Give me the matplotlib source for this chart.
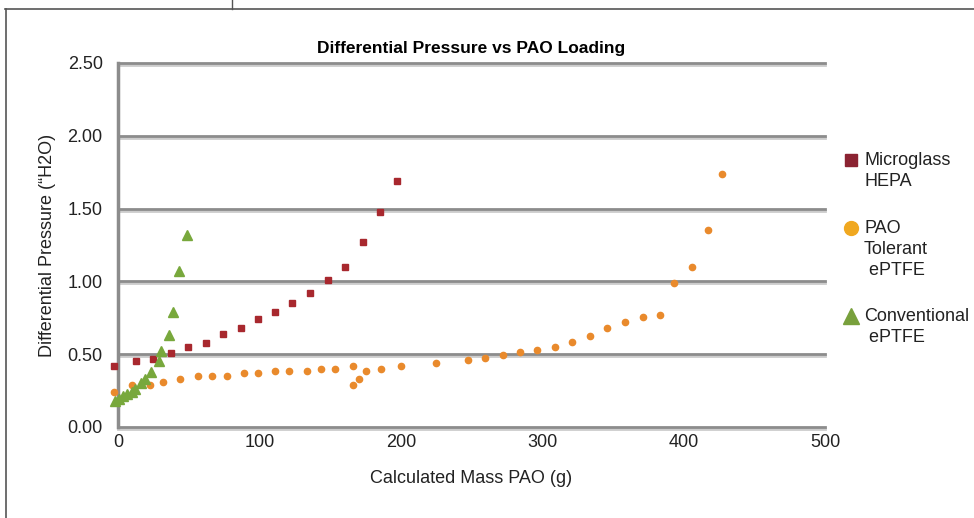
import matplotlib.pyplot as plt
import matplotlib.patheffects as pe
from matplotlib.lines import Line2D

plt.rcParams['font.family'] = ['Liberation Sans', 'DejaVu Sans']

# Microglass HEPA
hepa_x = [-2.6, 12.7, 25, 37.5, 49.8, 62.3, 74.6, 87.1, 99.1, 111.2, 123.4,
          136, 148.5, 160.7, 173, 185.5, 197.6]
hepa_y = [0.42, 0.45, 0.47, 0.51, 0.55, 0.58, 0.64, 0.68, 0.74, 0.79, 0.85,
          0.92, 1.01, 1.10, 1.27, 1.475, 1.69]

# PAO Tolerant ePTFE
pao_x = [-2.8, 10.1, 22.7, 32.1, 43.9, 56.7, 66.8, 77, 89.2, 98.9, 111.2, 121.3,
         133.6, 143.5, 153.7, 165.9, 165.9, 170.7, 175.4, 186.2, 200, 225.2,
         247.7, 259.9, 272.2, 284.2, 296.5, 308.8, 321.3, 333.8, 346.1, 358.6,
         371.1, 383.4, 393.3, 405.8, 417.4, 427.5]
pao_y = [0.24, 0.29, 0.29, 0.31, 0.33, 0.35, 0.35, 0.35, 0.37, 0.37, 0.385, 0.385,
         0.385, 0.40, 0.40, 0.42, 0.29, 0.33, 0.385, 0.40, 0.42, 0.44,
         0.46, 0.475, 0.495, 0.515, 0.53, 0.55, 0.586, 0.627, 0.678, 0.72,
         0.753, 0.77, 0.99, 1.10, 1.35, 1.735]

# Conventional ePTFE
conv_x = [-2.1, 0.9, 3.8, 6.6, 9.7, 12, 16, 19, 23.2, 29.3, 30.5, 36.4, 38.7,
          43.2, 48.9]
conv_y = [0.18, 0.195, 0.21, 0.225, 0.24, 0.26, 0.30, 0.33, 0.38, 0.45, 0.52,
          0.63, 0.79, 1.07, 1.32]

y_ticks = [0.0, 0.5, 1.0, 1.5, 2.0, 2.5]
x_ticks = [0, 100, 200, 300, 400, 500]

fig = plt.figure(figsize=(9.74, 5.18), dpi=100)
ax = fig.add_axes([0.1211, 0.1757, 0.7259, 0.7027])

ax.plot(hepa_x, hepa_y, 's', color='#a8282e', markersize=4.5, clip_on=False, zorder=3)
ax.plot(pao_x, pao_y, 'o', color='#e98a2c', markersize=4.5, clip_on=False, zorder=3)
ax.plot(conv_x, conv_y, '^', color='#78a83c', markersize=7.5, clip_on=False, zorder=4)

ax.set_xlim(0, 500)
ax.set_ylim(0, 2.5)
ax.set_xticks(x_ticks)
ax.set_yticks(y_ticks)
ax.set_yticklabels([f'{v:.2f}' for v in y_ticks])
ax.tick_params(length=0, labelsize=13, colors='#222222')
ax.tick_params(axis='y', pad=11)
ax.tick_params(axis='x', pad=5)

ax.grid(axis='y', color='#8c8c8c', linewidth=2)
for gl in ax.get_ygridlines():
    gl.set_clip_on(False)
    gl.set_path_effects([pe.SimpleLineShadow(offset=(0, -1.5), shadow_color='#cccccc', alpha=1),
                         pe.Normal()])
ax.set_axisbelow(True)
for s in ['top', 'right', 'bottom']:
    ax.spines[s].set_visible(False)
ax.spines['left'].set_color('#8c8c8c')
ax.spines['left'].set_linewidth(2.5)

ax.set_title('Differential Pressure vs PAO Loading', fontsize=12.5, fontweight='bold', pad=7)
ax.set_xlabel('Calculated Mass PAO (g)', fontsize=13, color='#222222', labelpad=14)
ax.set_ylabel('Differential Pressure (\u201cH2O)', fontsize=13, color='#222222', labelpad=8)

# legend drawn by hand
leg = [('s', '#8b2332', 9, 'Microglass\nHEPA', 160),
       ('o', '#f0a820', 10, 'PAO\nTolerant\n ePTFE', 228),
       ('^', '#78a03c', 11, 'Conventional\n ePTFE', 316)]
for m, c, ms, lbl, ypx in leg:
    fig.add_artist(Line2D([851 / 974], [1 - ypx / 518], marker=m, color=c,
                          markersize=ms, linestyle='none', transform=fig.transFigure))
    fig.text(864 / 974, 1 - (ypx - 8) / 518, lbl, fontsize=13, color='#222222',
             va='top', ha='left', linespacing=1.32)

# page frame lines
fig.add_artist(Line2D([5 / 974, 1], [1 - 9 / 518] * 2, color='#555555', lw=1.2,
                      transform=fig.transFigure))
fig.add_artist(Line2D([6 / 974] * 2, [0, 1 - 9 / 518], color='#555555', lw=1.2,
                      transform=fig.transFigure))
fig.add_artist(Line2D([232 / 974] * 2, [1 - 9 / 518, 1], color='#555555', lw=1,
                      transform=fig.transFigure))

fig.savefig('out.png', dpi=100)
